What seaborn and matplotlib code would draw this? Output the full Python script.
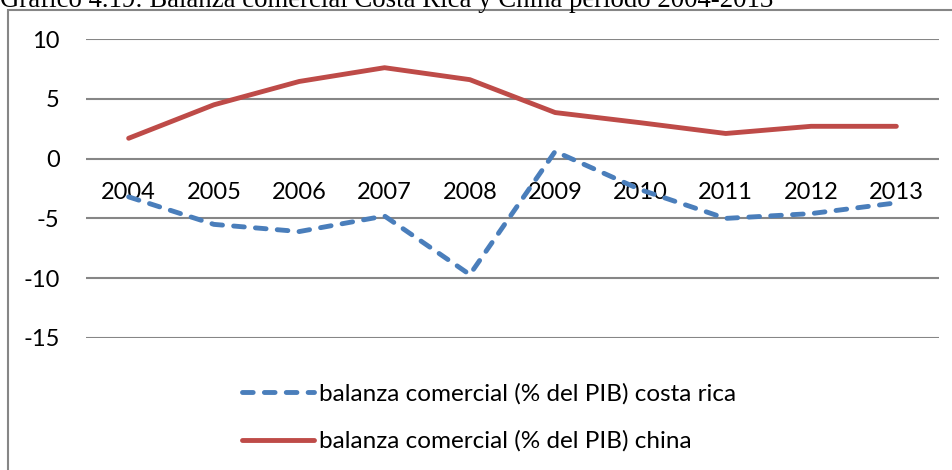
import matplotlib
matplotlib.use("Agg")
import matplotlib.pyplot as plt
import seaborn as sns
import pandas as pd
from matplotlib.patches import Rectangle

years = ["2004", "2005", "2006", "2007", "2008", "2009", "2010", "2011", "2012", "2013"]
costa_rica = [-3.2, -5.5, -6.1, -4.8, -9.7, 0.6, -2.6, -5.0, -4.6, -3.7]
china = [1.7, 4.5, 6.45, 7.6, 6.6, 3.85, 3.0, 2.1, 2.7, 2.7]
y_ticks = [10, 5, 0, -5, -10, -15]
label_cr = "balanza comercial (% del PIB) costa rica"
label_cn = "balanza comercial (% del PIB) china"
title = "Gráfico 4.19: Balanza comercial Costa Rica y China período 2004-2013"

sns.set_theme(style="white")
plt.rcParams["font.family"] = ["Lato", "DejaVu Sans"]

W, H = 953, 470
fig = plt.figure(figsize=(W / 100, H / 100), dpi=100)
ax = fig.add_axes([86 / W, 1 - 338 / H, (939 - 86) / W, (338 - 39) / H])

pos = list(range(len(years)))
df_cr = pd.DataFrame({"pos": pos, "val": costa_rica})
df_cn = pd.DataFrame({"pos": pos, "val": china})

blue = "#4A7EBB"
red = "#BE4B48"
lw = 3.5
sns.lineplot(data=df_cr, x="pos", y="val", ax=ax, color=blue, lw=lw,
             label=label_cr)
sns.lineplot(data=df_cn, x="pos", y="val", ax=ax, color=red, lw=lw,
             label=label_cn)
lines = ax.get_lines()
lines[0].set_linestyle((0, (2.2, 2.3)))
lines[0].set_dash_capstyle("round")
lines[1].set_solid_capstyle("round")
for l in lines:
    l.set_zorder(3)

ax.set_xlim(-0.5, len(years) - 0.5)
ax.set_ylim(-15, 10)
ax.set_yticks(y_ticks)
ax.set_yticklabels([str(v) for v in y_ticks])
ax.yaxis.grid(True, color="#868686", lw=1.5)
ax.set_axisbelow(True)
for s in ax.spines.values():
    s.set_visible(False)
ax.tick_params(axis="y", length=0, pad=19, labelsize=17, labelcolor="black")
ax.set_xticks([])
ax.set_xlabel("")
ax.set_ylabel("")
for p, yr in zip(pos, years):
    ax.annotate(yr, xy=(p, 0), xytext=(0, -34 * 0.72), textcoords="offset points",
                ha="center", va="center", fontsize=17, color="black", zorder=2)

leg = ax.legend(loc="upper left", bbox_to_anchor=(242 / W, 1 - 383 / H),
                bbox_transform=fig.transFigure, frameon=False, fontsize=17.5,
                handlelength=2.95, handletextpad=0.2, labelspacing=1.07,
                borderpad=0, borderaxespad=0)
for t in leg.get_texts():
    t.set_color("black")
for h in leg.get_lines():
    h.set_linewidth(lw)

fig.text(0, 1 - 7 / H, title, fontsize=19.3, family=["Liberation Serif"],
         ha="left", va="baseline", color="black")

fig.add_artist(Rectangle((8 / W, -0.1), 1.2, 1.1 - 10 / H,
                         transform=fig.transFigure, fill=False,
                         edgecolor="#868686", lw=1.5))

fig.savefig("out.png", dpi=100)
